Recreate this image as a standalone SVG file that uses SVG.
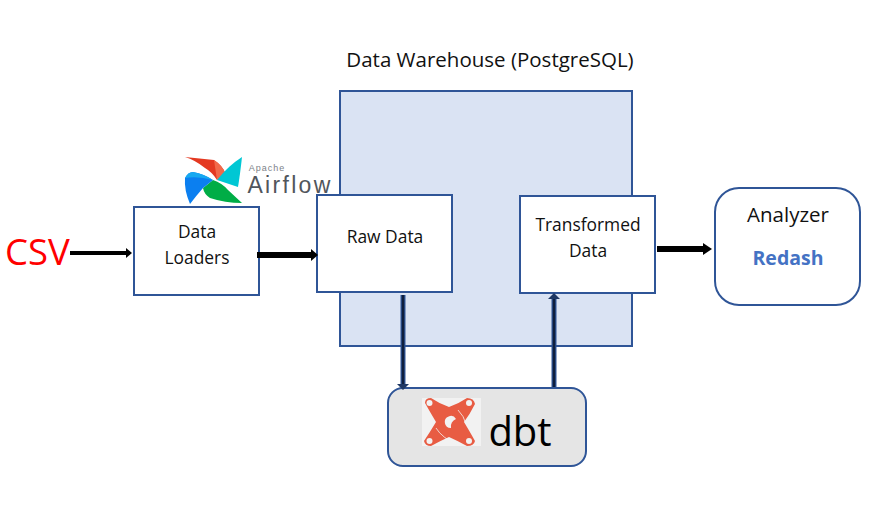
<svg xmlns="http://www.w3.org/2000/svg" width="891" height="512" viewBox="0 0 891 512">
<style>
text{font-family:"Open Sans","Noto Sans","DejaVu Sans",sans-serif;fill:#111;text-anchor:middle}
.box{stroke:#2f5597;stroke-width:2;fill:#fff}
.lb{font-size:17.4px}
.k{stroke:#000;fill:none}
.ah{fill:#000}
.n{stroke:#2f5597;stroke-width:5;fill:none}
.d{stroke:#0f1f3d;stroke-width:2.5;fill:none}
#airflow-logo text{font-family:"Liberation Sans",Arial,sans-serif}
</style>
<rect width="891" height="512" fill="#fff"/>
<g id="warehouse">
<rect class="box" x="340" y="91" width="292" height="255" style="fill:#dae3f3"/>
<text x="490" y="67" font-size="20.5">Data Warehouse (PostgreSQL)</text>
</g>
<g id="airflow-logo">
<path d="M185 157L214 160Q223 166 225 173L217 180Q212 172 205 168Q195 160 185 157Z" fill="#e43921"/>
<path d="M225 173L217 180L214 160Q223 166 225 173Z" fill="#f2694a"/>
<path d="M242 157Q240 175 238 187L217 180Q228 166 242 157Z" fill="#00c7d4"/>
<path d="M203 188L213 180Q222 183 228 190L242 203Q225 203 210 198Q204 194 203 188Z" fill="#00ad46"/>
<path d="M190 204Q184 190 185 178Q188 172 193 172Q204 174 213 180L203 188Q196 196 190 204Z" fill="#0b7ff0"/>
<path d="M185 178Q188 172 193 172Q204 174 213 180Q198 176 185 178Z" fill="#17a9f0"/>
<text x="267" y="170.500" font-size="9" letter-spacing="1" style="fill:#7c8288">Apache</text>
<text x="290" y="193" font-size="23" letter-spacing="2.300" style="fill:#51565c">Airflow</text>
</g>
<g id="csv"><text x="37.500" y="265" font-size="36.500" style="fill:#f00">CSV</text></g>
<g id="loaders">
<rect class="box" x="134" y="207" width="125" height="88"/>
<text class="lb" x="197" y="238">Data</text>
<text class="lb" x="197" y="264">Loaders</text>
</g>
<g id="raw">
<rect class="box" x="317" y="195" width="135" height="97"/>
<text class="lb" x="385" y="243">Raw Data</text>
</g>
<g id="transformed">
<rect class="box" x="520" y="196" width="135" height="97"/>
<text class="lb" x="588" y="231">Transformed</text>
<text class="lb" x="588" y="257">Data</text>
</g>
<g id="analyzer">
<rect class="box" x="715" y="188" width="145" height="117" rx="24"/>
<text x="788" y="222" font-size="20.500">Analyzer</text>
<text x="788" y="265" font-size="19.500" font-weight="700" style="fill:#4472c4">Redash</text>
</g>
<g id="dbt">
<rect class="box" x="388" y="388" width="198" height="78" rx="15" style="fill:#e5e5e5"/>
<rect x="422" y="398" width="59" height="48" fill="#f2f2f2"/>
<path d="M425 403Q425 398 431 398Q440 404 449 407Q458 404 467 398Q474 398 475 404Q470 414 464 422Q470 432 475 441Q474 446 467 446Q458 441 449 437Q440 441 431 446Q425 446 424 441Q430 432 436 422Q430 412 425 403Z" fill="#e85c43"/>
<g fill="#f2f2f2"><circle cx="429.500" cy="403" r="3"/><circle cx="469" cy="403" r="3"/><circle cx="429.500" cy="441" r="3"/><circle cx="469" cy="441" r="3"/></g>
<path d="M456 419a6 6 0 1 0 -5 9a8 8 0 0 1 5 -9Z" fill="#f2f2f2"/>
<path d="M458 410Q464 416 466 424M436 428Q442 438 458 445" fill="none" stroke="#f2f2f2" stroke-width="0.800"/>
<text x="520" y="446" font-size="40" style="fill:#000">dbt</text>
</g>
<g id="connectors">
<path class="k" stroke-width="4" d="M70 253H128"/><path class="ah" d="M126 248L132 253L126 258Z"/>
<path class="k" stroke-width="6" d="M257 255H313"/><path class="ah" d="M311 249L318 255L311 261Z"/>
<path class="k" stroke-width="6" d="M657 249H705"/><path class="ah" d="M703 243L712 249L703 255Z"/>
<path class="n" d="M403 295V384"/><path class="d" d="M403 295V384"/><path d="M397 384H409L403 390Z" fill="#1f3864"/>
<path class="n" d="M554 387V299"/><path class="d" d="M554 387V299"/><path d="M548 299H560L554 293Z" fill="#1f3864"/>
</g>
</svg>
